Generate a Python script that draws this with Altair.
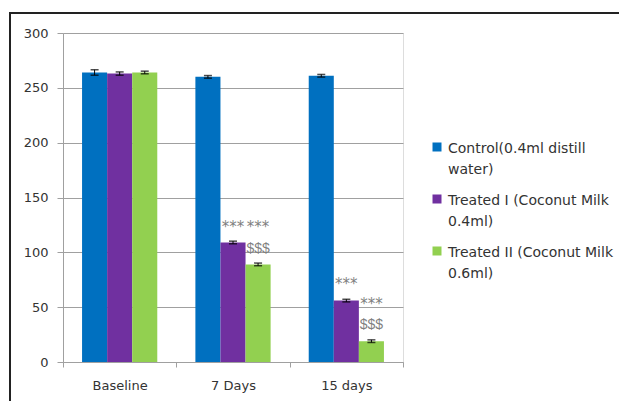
import altair as alt
import pandas as pd

categories = ["Baseline", "7 Days", "15 days"]
legend_lines = [
    ["Control(0.4ml distill", "water)"],
    ["Treated I (Coconut Milk", "0.4ml)"],
    ["Treated II (Coconut Milk", "0.6ml)"],
]
series = [" ".join(l) for l in legend_lines]
colors = ["#0070C0", "#7030A0", "#92D050"]

control = [264, 260, 261]
treated1 = [263, 109, 56]
treated2 = [264, 89, 19]
err_control = [2.5, 1.2, 1.2]
err_treated1 = [1.5, 1.2, 1.2]
err_treated2 = [1.2, 1.2, 1.2]

ann_category = ["7 Days", "7 Days", "7 Days", "15 days", "15 days", "15 days"]
ann_series_idx = [1, 2, 2, 1, 2, 2]
ann_text = ["***", "***", "$$$", "***", "***", "$$$"]
ann_y = [127, 127, 104, 74.7, 56.4, 34.5]

rows = []
for vals, errs, s in [(control, err_control, series[0]),
                      (treated1, err_treated1, series[1]),
                      (treated2, err_treated2, series[2])]:
    for c, v, e in zip(categories, vals, errs):
        rows.append({"category": c, "series": s, "value": v,
                     "low": v - e, "high": v + e})
df = pd.DataFrame(rows)

ann = pd.DataFrame({
    "category": ann_category,
    "series": [series[i] for i in ann_series_idx],
    "text": ann_text,
    "y": ann_y,
})
ann_star = ann[ann["text"] == "***"]
ann_dollar = ann[ann["text"] == "$$$"]

label_expr = " : ".join(
    [f"datum.label == '{s}' ? {l!r}" for s, l in zip(series, legend_lines)]
) + " : datum.label"

FONT = "DejaVu Sans"

x_enc = alt.X("category:N", sort=categories,
              scale=alt.Scale(paddingInner=0, paddingOuter=0),
              axis=alt.Axis(title=None, labelAngle=0, grid=False,
                            tickBand="extent", tickSize=5, tickColor="#A0A0A0",
                            domainColor="#A0A0A0", labelFont=FONT,
                            labelFontSize=13, labelColor="#333333",
                            labelPadding=12))
xo_enc = alt.XOffset("series:N", sort=series,
                     scale=alt.Scale(paddingInner=0, paddingOuter=0.76))
y_scale = alt.Scale(domain=[0, 300])

bars = alt.Chart(df).mark_bar(strokeWidth=0).encode(
    x=x_enc,
    xOffset=xo_enc,
    y=alt.Y("value:Q", scale=y_scale,
            axis=alt.Axis(title=None, values=[0, 50, 100, 150, 200, 250, 300],
                          grid=True, gridColor="#A0A0A0", tickSize=6,
                          tickColor="#A0A0A0", domainColor="#A0A0A0",
                          labelFont=FONT, labelFontSize=13,
                          labelColor="#333333", labelPadding=9)),
    color=alt.Color("series:N", sort=series,
                    scale=alt.Scale(domain=series, range=colors),
                    legend=alt.Legend(title=None, orient="none",
                                      legendX=367, legendY=102,
                                      symbolType="M-1,0.11H1V2.11H-1Z",
                                      symbolSize=81,
                                      symbolStrokeWidth=0,
                                      labelFont=FONT,
                                      labelFontSize=14, labelColor="#333333",
                                      labelExpr=label_expr, labelLimit=300,
                                      labelBaseline="top", rowPadding=10,
                                      labelOffset=4)),
)

err_rule = alt.Chart(df).mark_rule(color="black", strokeWidth=1).encode(
    x=alt.X("category:N", sort=categories), xOffset=alt.XOffset("series:N", sort=series),
    y=alt.Y("low:Q", scale=y_scale), y2="high:Q")
cap_lo = alt.Chart(df).mark_tick(color="black", thickness=1.5, size=8).encode(
    x=alt.X("category:N", sort=categories), xOffset=alt.XOffset("series:N", sort=series),
    y=alt.Y("low:Q", scale=y_scale))
cap_hi = alt.Chart(df).mark_tick(color="black", thickness=1.5, size=8).encode(
    x=alt.X("category:N", sort=categories), xOffset=alt.XOffset("series:N", sort=series),
    y=alt.Y("high:Q", scale=y_scale))

stars = alt.Chart(ann_star).mark_text(font="DejaVu Sans", fontSize=15,
                                      color="#808080", baseline="alphabetic",
                                      dy=9).encode(
    x=alt.X("category:N", sort=categories), xOffset=alt.XOffset("series:N", sort=series),
    y=alt.Y("y:Q", scale=y_scale), text="text:N")
dollars = alt.Chart(ann_dollar).mark_text(font="Liberation Sans", fontSize=14,
                                          color="#808080", baseline="alphabetic",
                                          dy=5).encode(
    x=alt.X("category:N", sort=categories), xOffset=alt.XOffset("series:N", sort=series),
    y=alt.Y("y:Q", scale=y_scale), text="text:N")

frame = alt.Chart(pd.DataFrame({"a": [0]})).mark_rect(
    fill="transparent", stroke="#222222", strokeWidth=2, clip=False).encode(
    x=alt.value(-53), x2=alt.value(800), y=alt.value(-20), y2=alt.value(600))

chart = alt.layer(bars, err_rule, cap_lo, cap_hi, stars, dollars, frame).properties(
    width=340, height=329,
    autosize=alt.AutoSizeParams(type="none"),
    padding={"left": 63, "top": 33, "right": 216, "bottom": 39},
    background="white",
).configure_view(stroke=None).configure(
    style={"guide-label": {"lineHeight": 21}}
)

chart.save("out.html", embed_options={"renderer": "svg", "actions": False})
